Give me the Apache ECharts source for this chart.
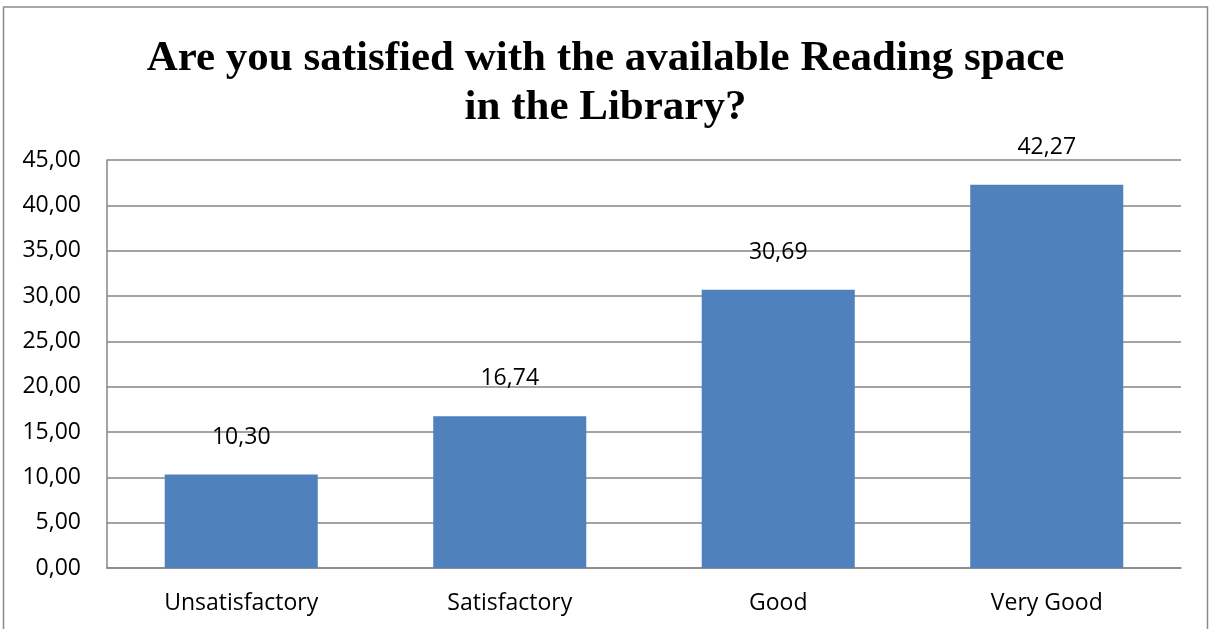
<!DOCTYPE html>
<html>
<head>
<meta charset="utf-8">
<script src="https://cdn.jsdelivr.net/npm/echarts@6/dist/echarts.min.js"></script>
<style>
  html, body { margin: 0; padding: 0; background: #fff; }
  #chart { width: 1211px; height: 629px; }
</style>
</head>
<body>
<div id="chart"></div>
<script>
const titleText = 'Are you satisfied with the available Reading space\nin the Library?';
const categories = ['Unsatisfactory', 'Satisfactory', 'Good', 'Very Good'];
const values = [10.30, 16.74, 30.69, 42.27];
const yMin = 0, yMax = 45, yInterval = 5;

const fmt = v => Number(v).toFixed(2).replace('.', ',');
const chart = echarts.init(document.getElementById('chart'), null, { renderer: 'canvas' });
const labelFont = '"Open Sans", "Noto Sans", sans-serif';

chart.setOption({
  backgroundColor: '#ffffff',
  animation: false,
  title: {
    text: titleText,
    left: 'center',
    top: 29,
    textStyle: {
      fontFamily: '"Liberation Serif", "Times New Roman", serif',
      fontWeight: 'bold',
      fontSize: 43,
      lineHeight: 49,
      color: '#000'
    }
  },
  graphic: [{
    type: 'rect',
    shape: { x: 3.5, y: 7, width: 1204, height: 660 },
    style: { fill: 'none', stroke: '#8a8a8a', lineWidth: 1.5 },
    silent: true
  }],
  grid: { left: 107, right: 30, top: 160, bottom: 61, containLabel: false },
  xAxis: {
    type: 'category',
    data: categories,
    axisLine: { show: true, lineStyle: { color: '#868686', width: 1.5 } },
    axisTick: { show: false },
    axisLabel: { margin: 24, fontSize: 23, fontFamily: labelFont, color: '#000' }
  },
  yAxis: {
    type: 'value',
    min: yMin, max: yMax, interval: yInterval,
    axisLine: { show: true, lineStyle: { color: '#868686', width: 1.5 } },
    axisTick: { show: false },
    splitLine: { show: true, lineStyle: { color: '#868686', width: 1.5 } },
    axisLabel: { margin: 26, fontSize: 23, fontFamily: labelFont, color: '#000', formatter: fmt }
  },
  series: [{
    type: 'bar',
    data: values,
    barWidth: '57%',
    itemStyle: { color: '#4F81BD' },
    label: {
      show: true,
      position: 'top',
      distance: 26,
      fontSize: 23,
      fontFamily: labelFont,
      color: '#000',
      formatter: p => fmt(p.value)
    }
  }]
});
</script>
</body>
</html>
